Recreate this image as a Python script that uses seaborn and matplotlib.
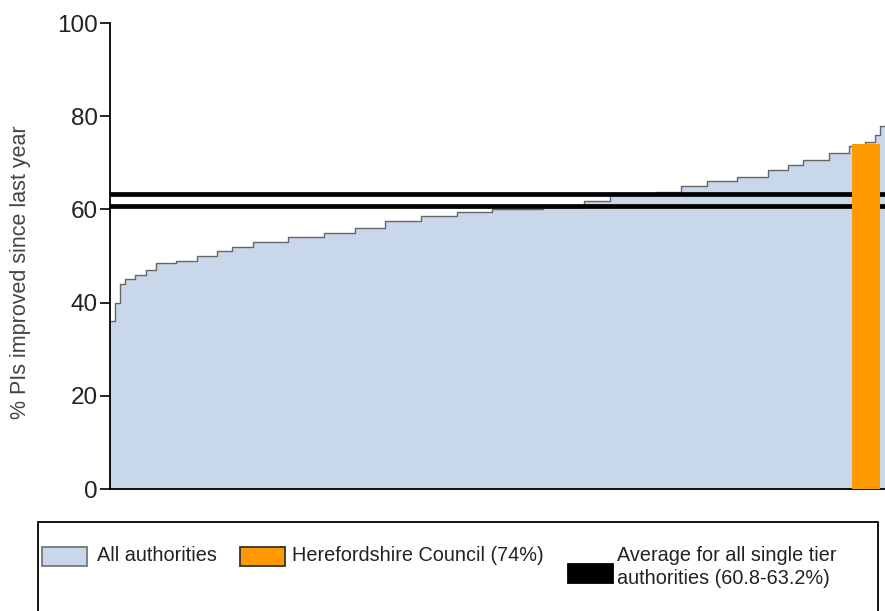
import numpy as np
import pandas as pd
import matplotlib.pyplot as plt
import seaborn as sns
from matplotlib.patches import Rectangle

step_values = [36, 40, 44, 45, 46, 47, 48.5, 49, 50, 51, 52, 53, 54, 55, 56, 57.5, 58.5, 59.5,
               60, 60.5, 61.7, 63, 63.8, 65, 66, 67, 68.5, 69.5, 70.5, 72, 73.5, 74.5, 76, 78]
step_counts = [1, 1, 1, 2, 2, 2, 4, 4, 4, 3, 4, 7, 7, 6, 6, 7, 7, 7,
               10, 8, 5, 9, 5, 5, 6, 6, 4, 3, 5, 4, 3, 2, 1, 1]

hereford_value = 74
hereford_pos = 145.5
average_low = 60.8
average_high = 63.2

y_ticks = [0, 20, 40, 60, 80, 100]

legend_labels = ["All authorities", "Herefordshire Council (74%)",
                 "Average for all single tier\nauthorities (60.8-63.2%)"]

values = np.repeat(step_values, step_counts)
n = len(values)
df = pd.DataFrame({"pos": np.arange(n + 1), "score": np.append(values, values[-1])})

sns.set_theme(style="white")
plt.rcParams["font.family"] = ["Liberation Sans", "DejaVu Sans"]

W, H = 885, 611
fig = plt.figure(figsize=(W / 100, H / 100), dpi=100)
ax = fig.add_axes([110 / W, 1 - 489 / H, 1 - 110 / W, (489 - 23) / H])

area_color = "#c8d7ea"
orange = "#ff9900"
ax.fill_between(df["pos"], df["score"], step="post", color=area_color, linewidth=0, zorder=1)
sns.lineplot(data=df, x="pos", y="score", drawstyle="steps-post", color="#666666",
             linewidth=1.0, ax=ax, zorder=2)

# average band
ax.axhline(average_low, color="black", linewidth=3.4, zorder=3)
ax.axhline(average_high, color="black", linewidth=3.4, zorder=3)

ax.bar(hereford_pos, hereford_value, width=5.5, align="edge", color=orange,
       linewidth=0, zorder=4)

ax.set_xlim(0, n)
ax.set_ylim(0, 100)
ax.set_yticks(y_ticks)
ax.set_yticklabels([str(t) for t in y_ticks], fontsize=17.5, color="#222222")
ax.set_xticks([])
ax.set_xlabel("")
ax.set_ylabel("% PIs improved since last year", fontsize=15.5, color="#444444")
ax.yaxis.set_label_coords((31 - 110) / 775, (489 - 272) / 466)
ax.tick_params(axis="y", direction="out", length=7, width=1.2, color="black", pad=2, left=True)
for side in ["top", "right"]:
    ax.spines[side].set_visible(False)
for side in ["left", "bottom"]:
    ax.spines[side].set_color("black")
    ax.spines[side].set_linewidth(1.3)


# legend drawn by hand in pixel positions (box runs off the bottom edge)
def fx(px):
    return px / W


def fy(py):
    return 1 - py / H


box = Rectangle((fx(38), fy(640)), fx(878) - fx(38), fy(522) - fy(640),
                transform=fig.transFigure, facecolor="white", edgecolor="black",
                linewidth=1.3, clip_on=False)
fig.patches.append(box)

swatches = [(42, 547, area_color, "#777777"), (240, 547, orange, "#333333"),
            (568, 564, "black", "black")]
text_x = [97, 292, 617]
for (sx, sy, fc, ec), tx, label in zip(swatches, text_x, legend_labels):
    fig.patches.append(Rectangle((fx(sx), fy(sy + 19)), fx(sx + 45) - fx(sx), fy(sy) - fy(sy + 19),
                                 transform=fig.transFigure, facecolor=fc, edgecolor=ec,
                                 linewidth=1.3))
    fig.text(fx(tx), fy(546), label, fontsize=14.3, color="#222222", ha="left", va="top",
             linespacing=1.3)

fig.savefig("out.png", dpi=100)
